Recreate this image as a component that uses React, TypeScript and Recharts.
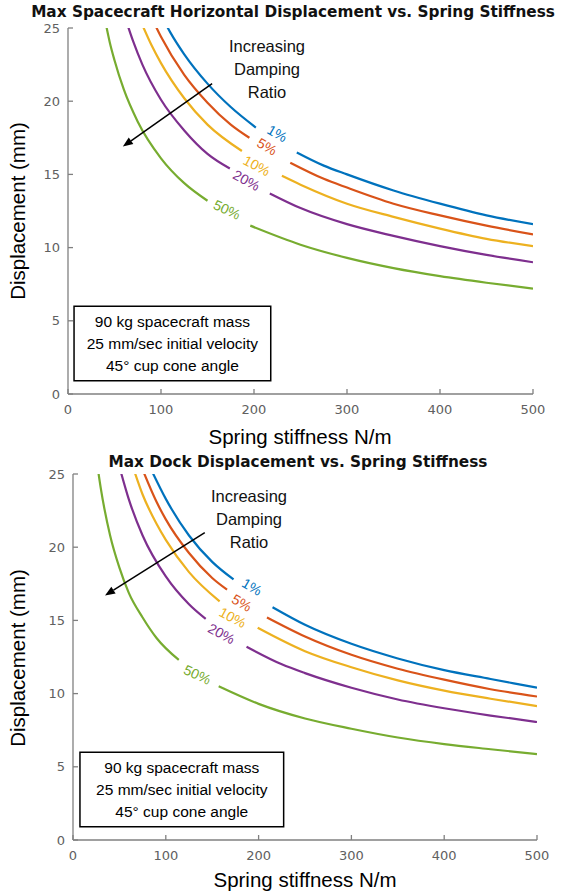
import React from 'react';
import { LineChart, Line, XAxis, YAxis, ReferenceDot, ReferenceLine, ReferenceArea } from 'recharts';

const dampingLabels = ['1%', '5%', '10%', '20%', '50%'];
const seriesColors = ['#0072BD', '#D95319', '#EDB120', '#7E2F8E', '#77AC30'];
const xTicks = [0, 100, 200, 300, 400, 500];
const yTicks = [0, 5, 10, 15, 20, 25];
const boxLines = ['90 kg spacecraft mass', '25 mm/sec initial velocity', '45\u00b0 cup cone angle'];

// spacecraft horizontal displacement (mm) vs stiffness (N/m); null = gap for the label
const hz1K = [100, 110, 125, 150, 175, 202, 224, 246, 275, 300, 350, 400, 450, 500];
const hz1D = [25.9, 24.7, 23.2, 21.2, 19.6, 18.2, null, 16.5, 15.6, 15.0, 13.9, 13.0, 12.2, 11.6];
const hz5K = [90, 100, 125, 150, 175, 195, 217, 239, 275, 300, 350, 400, 450, 500];
const hz5D = [25.7, 24.4, 21.8, 19.9, 18.4, 17.5, null, 15.8, 14.7, 14.1, 13.0, 12.2, 11.5, 10.9];
const hz10K = [80, 90, 100, 125, 150, 187, 208, 230, 250, 300, 350, 400, 450, 500];
const hz10D = [25.2, 23.8, 22.6, 20.2, 18.4, 16.6, null, 14.9, 14.3, 13.0, 12.1, 11.3, 10.6, 10.1];
const hz20K = [62, 70, 80, 100, 125, 150, 174, 195, 217, 250, 300, 350, 400, 450, 500];
const hz20D = [25.6, 24.1, 22.5, 20.1, 18.0, 16.4, 15.4, null, 13.7, 12.7, 11.6, 10.8, 10.1, 9.5, 9.0];
const hz50K = [40, 45, 50, 60, 75, 100, 125, 150, 173, 196, 250, 300, 350, 400, 450, 500];
const hz50D = [25.5, 24.0, 22.8, 20.8, 18.6, 16.1, 14.4, 13.2, null, 11.5, 10.2, 9.3, 8.6, 8.05, 7.6, 7.2];

// dock displacement (mm) vs stiffness (N/m)
const dk1K = [85, 100, 125, 150, 173, 194, 215, 250, 300, 350, 400, 450, 500];
const dk1D = [25.2, 23.3, 20.8, 19.0, 17.8, null, 15.9, 14.7, 13.4, 12.4, 11.6, 11.0, 10.4];
const dk5K = [75, 90, 100, 125, 150, 166, 188, 209, 250, 300, 350, 400, 450, 500];
const dk5D = [25.3, 23.1, 21.9, 19.6, 17.9, 17.1, null, 15.2, 13.9, 12.65, 11.7, 10.95, 10.3, 9.8];
const dk10K = [65, 75, 90, 100, 125, 158, 178, 199, 250, 300, 350, 400, 450, 500];
const dk10D = [25.4, 23.6, 21.6, 20.5, 18.3, 16.3, null, 14.5, 12.9, 11.8, 10.9, 10.2, 9.65, 9.15];
const dk20K = [50, 60, 75, 100, 125, 143, 165, 187, 225, 250, 300, 350, 400, 450, 500];
const dk20D = [25.5, 23.3, 20.8, 18.0, 16.1, 15.1, null, 13.2, 12.0, 11.4, 10.4, 9.6, 9.0, 8.5, 8.06];
const dk50K = [26, 30, 40, 50, 60, 75, 90, 114, 135, 157, 200, 250, 300, 350, 400, 450, 500];
const dk50D = [25.7, 24.0, 20.8, 18.6, 16.9, 15.2, 13.8, 12.3, null, 10.5, 9.3, 8.3, 7.6, 7.0, 6.55, 6.2, 5.87];

// label anchors [k, d, rotation]
const hzLabelPos = [[225, 17.8, 30], [214, 16.9, 30], [203, 15.6, 28], [192, 14.6, 28], [171, 12.6, 25]];
const dkLabelPos = [[193, 17.3, 30], [182, 16.2, 30], [172, 15.2, 28], [160, 14.1, 28], [134, 11.3, 25]];

const zip = (ks: number[], ds: (number | null)[]) => ks.map((k, i) => ({ k, d: ds[i] }));

const hzSeries = [zip(hz1K, hz1D), zip(hz5K, hz5D), zip(hz10K, hz10D), zip(hz20K, hz20D), zip(hz50K, hz50D)];
const dkSeries = [zip(dk1K, dk1D), zip(dk5K, dk5D), zip(dk10K, dk10D), zip(dk20K, dk20D), zip(dk50K, dk50D)];

const axisGray = '#808080';
const tickStyle = { fill: '#606060', fontSize: 13, fontFamily: '"DejaVu Sans", sans-serif' };
const NoTick = () => <g />;

const ArrowShape = (p: any) => {
  const { x1, y1, x2, y2 } = p;
  const ang = Math.atan2(y2 - y1, x2 - x1);
  const len = 10;
  const w = 4;
  const bx = x2 - len * Math.cos(ang);
  const by = y2 - len * Math.sin(ang);
  const px = -Math.sin(ang) * w;
  const py = Math.cos(ang) * w;
  return (
    <g>
      <line x1={x1} y1={y1} x2={bx} y2={by} stroke="#000" strokeWidth={1.5} />
      <polygon points={`${x2},${y2} ${bx + px},${by + py} ${bx - px},${by - py}`} fill="#000" />
    </g>
  );
};

const BoxLabel = (p: any) => {
  const { x, y, width, height } = p.viewBox;
  const cx = x + width / 2;
  const cy = y + height / 2;
  return (
    <g>
      {boxLines.map((t, i) => (
        <text key={t} x={cx} y={cy + (i - 1) * 22} textAnchor="middle" dominantBaseline="central"
          fontSize={15.5} fontFamily='"Liberation Sans", Arial, sans-serif' fill="#000">{t}</text>
      ))}
    </g>
  );
};

interface ChartProps {
  series: { k: number; d: number | null }[][];
  labelPos: number[][];
  arrow: { x: number; y: number }[];
  box: number[];
  height: number;
  margin: { top: number; right: number; bottom: number; left: number };
}

function DisplacementChart({ series, labelPos, arrow, box, height, margin }: ChartProps) {
  return (
    <LineChart width={571} height={height} margin={margin}>
      <XAxis xAxisId="b" dataKey="k" type="number" domain={[0, 500]} ticks={xTicks} height={30}
        tickSize={-5} tickMargin={16} tick={tickStyle} stroke={axisGray} strokeWidth={1.3} allowDataOverflow />
      <XAxis xAxisId="t" orientation="top" dataKey="k" type="number" domain={[0, 500]} ticks={xTicks} height={0}
        tickSize={-5} tick={NoTick} stroke={axisGray} strokeWidth={1.3} />
      <YAxis yAxisId="l" dataKey="d" type="number" domain={[0, 25]} ticks={yTicks} width={40}
        tickSize={-5} tickMargin={13} tick={tickStyle} stroke={axisGray} strokeWidth={1.3} allowDataOverflow />
      <YAxis yAxisId="r" orientation="right" type="number" domain={[0, 25]} ticks={yTicks} width={0}
        tickSize={-5} tick={NoTick} stroke={axisGray} strokeWidth={1.3} />
      <ReferenceArea xAxisId="b" yAxisId="l" x1={box[0]} x2={box[1]} y1={box[2]} y2={box[3]}
        fill="#fff" fillOpacity={1} stroke="#000" strokeWidth={1.5} label={BoxLabel} />
      {series.map((data, i) => (
        <Line key={dampingLabels[i]} xAxisId="b" yAxisId="l" data={data} dataKey="d" type="monotone"
          stroke={seriesColors[i]} strokeWidth={2.2} dot={false} isAnimationActive={false} />
      ))}
      {labelPos.map(([k, d, rot], i) => (
        <ReferenceDot key={dampingLabels[i]} xAxisId="b" yAxisId="l" x={k} y={d} r={0}
          shape={(p: any) => (
            <text x={p.cx} y={p.cy} transform={`rotate(${rot} ${p.cx} ${p.cy})`} textAnchor="middle"
              dominantBaseline="central" fill={seriesColors[i]} fontSize={14}
              fontFamily='"Liberation Sans", Arial, sans-serif'>{dampingLabels[i]}</text>
          )} />
      ))}
      <ReferenceLine xAxisId="b" yAxisId="l" segment={arrow} shape={ArrowShape} />
    </LineChart>
  );
}

const abs = (s: React.CSSProperties): React.CSSProperties => ({ position: 'absolute', whiteSpace: 'nowrap', ...s });

export default function App() {
  const sans = '"Liberation Sans", Arial, sans-serif';
  const titleFont: React.CSSProperties = { fontFamily: '"DejaVu Sans", sans-serif', fontWeight: 'bold', fontSize: 15.3, color: '#111' };
  const annot: React.CSSProperties = { fontFamily: sans, fontSize: 16.5, lineHeight: '23px', textAlign: 'center', color: '#111' };
  return (
    <div style={{ position: 'absolute', left: 0, top: 0, width: 571, height: 895, background: '#fff', fontFamily: sans }}>
      <div style={abs({ left: 0, top: 0 })}>
        <DisplacementChart series={hzSeries} labelPos={hzLabelPos}
          arrow={[{ x: 155, y: 21.2 }, { x: 59, y: 16.9 }]} box={[6.5, 218, 6.0, 0.9]}
          height={450} margin={{ top: 28, right: 38, bottom: 26, left: 28 }} />
      </div>
      <div style={abs({ left: 0, top: 446 })}>
        <DisplacementChart series={dkSeries} labelPos={dkLabelPos}
          arrow={[{ x: 142, y: 21.0 }, { x: 34.5, y: 16.7 }]} box={[7.5, 227, 6.0, 0.9]}
          height={449} margin={{ top: 28, right: 34, bottom: 25, left: 33 }} />
      </div>

      <div style={abs({ ...titleFont, left: 0, width: 586, top: 3, textAlign: 'center', lineHeight: '18px' })}>
        Max Spacecraft Horizontal Displacement vs. Spring Stiffness
      </div>
      <div style={abs({ ...titleFont, left: 0, width: 596, top: 453, textAlign: 'center', lineHeight: '18px' })}>
        Max Dock Displacement vs. Spring Stiffness
      </div>

      <div style={abs({ ...annot, left: 167, width: 200, top: 35 })}>Increasing<br />Damping<br />Ratio</div>
      <div style={abs({ ...annot, left: 149, width: 200, top: 485 })}>Increasing<br />Damping<br />Ratio</div>

      <div style={abs({ fontSize: 20.5, left: 0, width: 600, top: 425, textAlign: 'center', lineHeight: '24px' })}>
        Spring stiffness N/m
      </div>
      <div style={abs({ fontSize: 20.5, left: 0, width: 610, top: 868, textAlign: 'center', lineHeight: '24px' })}>
        Spring stiffness N/m
      </div>

      <div style={abs({ fontSize: 20.5, left: 18, top: 211, transform: 'translate(-50%, -50%) rotate(-90deg)' })}>
        Displacement (mm)
      </div>
      <div style={abs({ fontSize: 20.5, left: 18, top: 658, transform: 'translate(-50%, -50%) rotate(-90deg)' })}>
        Displacement (mm)
      </div>
    </div>
  );
}
